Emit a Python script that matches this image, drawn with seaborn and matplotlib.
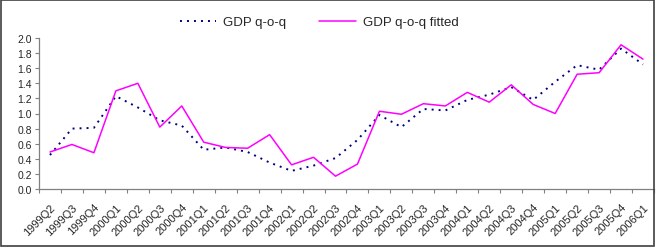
import matplotlib
matplotlib.use("Agg")
import matplotlib.pyplot as plt
import numpy as np
import pandas as pd
import seaborn as sns
from matplotlib.patches import Rectangle
from matplotlib.ticker import FixedLocator, FormatStrFormatter

quarters = ["1999Q2", "1999Q3", "1999Q4", "2000Q1", "2000Q2", "2000Q3", "2000Q4",
            "2001Q1", "2001Q2", "2001Q3", "2001Q4", "2002Q1", "2002Q2", "2002Q3",
            "2002Q4", "2003Q1", "2003Q2", "2003Q3", "2003Q4", "2004Q1", "2004Q2",
            "2004Q3", "2004Q4", "2005Q1", "2005Q2", "2005Q3", "2005Q4", "2006Q1"]

gdp_qoq = [0.45, 0.80, 0.81, 1.23, 1.08, 0.91, 0.84, 0.52, 0.55, 0.49, 0.35, 0.24,
           0.31, 0.41, 0.65, 0.98, 0.82, 1.06, 1.04, 1.18, 1.25, 1.35, 1.18, 1.42,
           1.64, 1.58, 1.86, 1.65]

gdp_fitted = [0.49, 0.59, 0.48, 1.30, 1.40, 0.82, 1.10, 0.62, 0.55, 0.54, 0.72, 0.32,
              0.42, 0.17, 0.33, 1.03, 0.99, 1.13, 1.10, 1.28, 1.15, 1.38, 1.12, 1.00,
              1.52, 1.54, 1.91, 1.72]

pos = np.arange(len(quarters))
df = pd.concat([
    pd.DataFrame({"pos": pos, "value": gdp_qoq, "series": "GDP q-o-q"}),
    pd.DataFrame({"pos": pos, "value": gdp_fitted, "series": "GDP q-o-q fitted"}),
])

sns.set_style("white")
plt.rcParams['font.family'] = ['Liberation Sans', 'DejaVu Sans']

fig = plt.figure(figsize=(6.67, 2.51), dpi=100)
ax = fig.add_axes([39 / 667, 61 / 251, 615 / 667, 151 / 251])

palette = {"GDP q-o-q": "#000080", "GDP q-o-q fitted": "#ff00ff"}
dashes = {"GDP q-o-q": (1, 2.6), "GDP q-o-q fitted": ""}
sns.lineplot(data=df, x="pos", y="value", hue="series", style="series",
             palette=palette, dashes=dashes, ax=ax, legend=False)
ax.lines[0].set_linewidth(1.4)
ax.lines[1].set_linewidth(1.1)

ax.set_xlim(-0.5, len(quarters) - 0.5)
ax.set_ylim(0, 2.0)
ax.set_yticks(np.arange(0, 2.01, 0.2))
ax.yaxis.set_major_formatter(FormatStrFormatter("%.1f"))
ax.set_xticks(pos)
ax.set_xticklabels(quarters, rotation=45, ha="right", rotation_mode="anchor")
ax.xaxis.set_minor_locator(FixedLocator(np.arange(-0.5, len(quarters), 1.0)))
ax.tick_params(axis="x", which="major", length=0, pad=9, labelsize=8)
ax.tick_params(axis="x", which="minor", length=3, width=0.8, color="#808080", direction="out", bottom=True)
ax.tick_params(axis="y", length=3, width=0.8, color="#808080", direction="out", left=True, labelsize=7.5, pad=2)
ax.set_xlabel("")
ax.set_ylabel("")

for s in ["top", "right"]:
    ax.spines[s].set_visible(False)
for s in ["left", "bottom"]:
    ax.spines[s].set_color("#808080")
    ax.spines[s].set_linewidth(0.9)

handles = [ax.lines[0], ax.lines[1]]
fig.legend(handles, ["GDP q-o-q", "GDP q-o-q fitted"], loc="center",
           bbox_to_anchor=(319 / 667, 1 - 23 / 251), ncol=2, frameon=False,
           fontsize=9.5, handlelength=2.8, handletextpad=0.5, columnspacing=2.5)

fig.patches.append(Rectangle((1 / 667, 4 / 251), 653 / 667, 246 / 251,
                             transform=fig.transFigure, fill=False,
                             edgecolor="#404040", linewidth=1.2))

fig.savefig("out.png", dpi=100, facecolor="white")
